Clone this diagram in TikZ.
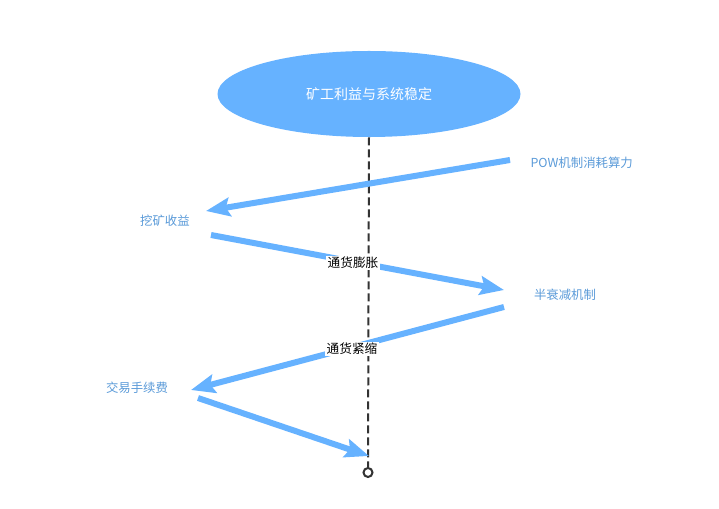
\documentclass[tikz,border=0pt]{standalone}
\usepackage{fontspec}
\setmainfont{Noto Sans CJK SC}
\usetikzlibrary{arrows.meta,shapes.geometric}
\definecolor{arrowblue}{HTML}{66B2FF}
\definecolor{labelblue}{HTML}{5B9BD9}
\definecolor{darkline}{HTML}{333333}
\tikzset{
  flow/.style={draw=arrowblue, line width=4.5pt, -{Stealth[length=18pt,width=14pt,inset=3pt]}},
  sidelabel/.style={text=labelblue, font=\fontsize{9.3}{11}\selectfont, inner sep=1pt},
  midlabel/.style={text=black, fill=white, font=\fontsize{9.5}{11}\selectfont, inner sep=1pt},
}
\begin{document}
\begin{tikzpicture}[x=0.75pt,y=-0.75pt]
\useasboundingbox (0,0) rectangle (719,509);
\fill[white] (0,0) rectangle (719,509);
\node[ellipse, fill=arrowblue, minimum width=303*0.75pt, minimum height=86*0.75pt, inner sep=0pt] (top) at (369,94) {};
\node[text=white, font=\fontsize{10.5}{12}\selectfont] (toptext) at (369,94) {矿工利益与系统稳定};
\node[circle, draw=darkline, line width=1.5pt, fill=white, inner sep=0pt, minimum size=9*0.75pt] (endc) at (368,472.5) {};
\draw[darkline, line width=1.5pt, dash pattern=on 6pt off 3pt] (top.south) -- (endc.north);

\node[sidelabel, anchor=west] (pow) at (529,163) {POW机制消耗算力};
\node[sidelabel] (mine) at (165,221) {挖矿收益};
\node[sidelabel] (half) at (565,295) {半衰减机制};
\node[sidelabel] (fee) at (137,388) {交易手续费};

\coordinate (a1s) at (510,160);
\coordinate (a1e) at (206,211);
\coordinate (a2s) at (211,235);
\coordinate (a2e) at (504,290);
\coordinate (a3s) at (504,307);
\coordinate (a3e) at (191,390);
\coordinate (a4s) at (198,398);
\coordinate (a4e) at (369,456);

\draw[flow] (a1s) -- (a1e);
\draw[flow] (a2s) -- (a2e);
\draw[flow] (a3s) -- (a3e);
\draw[flow] (a4s) -- (a4e);

\node[midlabel] (infl) at (353,263) {通货膨胀};
\node[midlabel] (defl) at (352,349) {通货紧缩};
\end{tikzpicture}
\end{document}
